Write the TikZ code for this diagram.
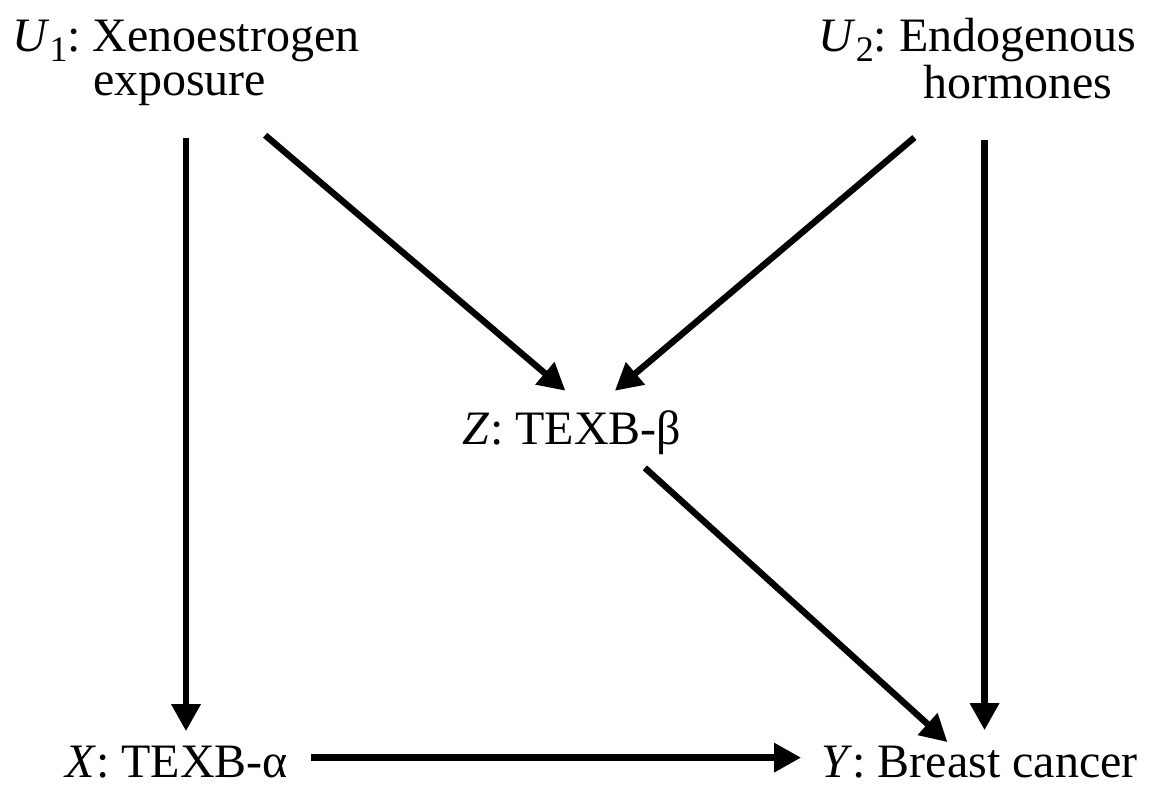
\documentclass[tikz,border=0pt]{standalone}
\usepackage{fontspec}
\setmainfont{Liberation Serif}
\usetikzlibrary{arrows.meta}
\tikzset{
  var/.style={inner sep=0pt, font=\fontsize{24}{22}\selectfont},
  flow/.style={-{Triangle[length=13.5pt,width=14pt]}, line width=3.2pt, draw=black}
}
\newcommand{\vsub}[2]{\textit{#1}\raisebox{-5pt}{\fontsize{18}{18}\selectfont #2}}

\begin{document}
\begin{tikzpicture}[x=1pt,y=1pt]
  \useasboundingbox (0,0) rectangle (575.5,393);
  \node[var, anchor=base west] (u1) at (6,367) {\vsub{U}{1}:\hspace{6pt}\begin{tabular}[t]{@{}l@{}}Xenoestrogen\\exposure\end{tabular}};
  \node[var, anchor=base east] (u2) at (568.5,367) {\vsub{U}{2}:\hspace{6pt}\begin{tabular}[t]{@{}c@{}}Endogenous\\hormones\end{tabular}};
  \node[var, anchor=base] (z) at (286,170.5) {\textit{Z}: TEXB-β};
  \node[var, anchor=base west] (x) at (32.5,4) {\textit{X}: TEXB-α};
  \node[var, anchor=base east] (y) at (569,4) {\textit{Y}: Breast cancer};

  \draw[flow, shorten <=14pt, shorten >=7.5pt] (u1.south) -- (u1.south |- x.north);
  \draw[flow, shorten <=19.8pt, shorten >=15.5pt] ([xshift=24.5pt]u1.south) -- ([xshift=8.5pt]z.north);
  \draw[flow, shorten <=19.7pt, shorten >=15.5pt] ([xshift=-16.6pt]u2.south) -- ([xshift=9.6pt]z.north);
  \draw[flow, shorten <=14pt, shorten >=8pt] ([xshift=2.5pt]y.north |- u2.south) -- ([xshift=2.5pt]y.north);
  \draw[flow, shorten <=9.1pt, shorten >=3pt] ([xshift=29.7pt]z.south) -- ([xshift=-13.8pt]y.north);
  \draw[flow, shorten <=11.5pt, shorten >=10pt] ([yshift=2.5pt]x.east) -- ([yshift=2.5pt]y.west);
\end{tikzpicture}
\end{document}
